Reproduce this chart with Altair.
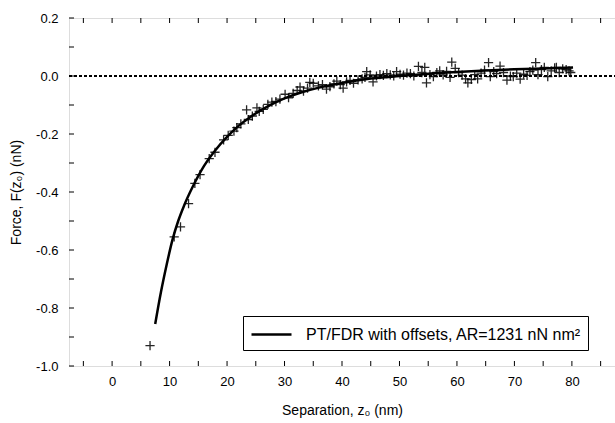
import altair as alt
import pandas as pd

# Measured data (crosses)
sep_x = [6.6, 10.8, 11.9, 13.3, 14.4, 15.3, 16.9, 17.9, 19.4, 20.2, 21.2, 21.7, 22.4,
         23.4, 23.7, 24.4, 25.2, 25.6, 26.3, 27.1, 27.8, 28.5, 29.2, 30.1, 30.7, 31.5,
         32.2, 32.7, 33.3, 34.0, 34.4, 35.0, 35.9, 36.6, 37.3, 37.9, 38.6, 39.1, 39.7,
         40.2, 40.8, 41.4, 42.0, 42.8, 43.5, 44.0, 44.3, 44.9, 45.4, 46.0, 46.6, 47.2,
         47.8, 48.4, 49.0, 49.5, 50.1, 50.7, 51.3, 51.9, 52.5, 53.3, 53.9, 54.4, 54.7,
         55.3, 55.9, 56.5, 57.0, 57.6, 58.2, 58.8, 59.1, 59.7, 60.3, 60.9, 61.5, 61.9,
         62.5, 63.1, 63.6, 64.2, 64.8, 65.5, 65.8, 66.4, 66.9, 67.5, 68.1, 68.7, 69.3,
         69.8, 70.4, 71.0, 71.6, 72.2, 72.7, 73.2, 73.7, 74.1, 74.7, 75.2, 75.8, 76.4,
         77.0, 77.3, 77.8, 78.4, 79.0, 79.5, 79.8]
force_y = [-0.93, -0.555, -0.52, -0.44, -0.37, -0.34, -0.285, -0.263, -0.22, -0.205, -0.19,
           -0.178, -0.165, -0.117, -0.15, -0.138, -0.11, -0.122, -0.115, -0.098, -0.09,
           -0.088, -0.08, -0.063, -0.075, -0.06, -0.05, -0.038, -0.052, -0.042, -0.022,
           -0.025, -0.034, -0.03, -0.045, -0.037, -0.027, -0.018, -0.03, -0.042, -0.02,
           -0.015, -0.025, -0.013, -0.01, -0.005, 0.015, 0.004, -0.02, 0.0, 0.005, 0.002,
           0.008, 0.004, 0.0, 0.015, 0.006, 0.003, 0.01, 0.008, 0.0, 0.033, 0.012, 0.03,
           -0.024, 0.005, -0.002, 0.012, 0.018, 0.004, 0.016, -0.005, 0.048, 0.026, 0.012,
           0.003, -0.01, -0.024, -0.012, 0.005, -0.01, 0.01, 0.02, 0.046, -0.002, 0.015,
           0.008, 0.034, 0.012, -0.014, 0.0, -0.002, 0.01, -0.011, 0.006, 0.002, 0.015,
           0.02, 0.046, 0.005, 0.022, 0.03, -0.002, 0.018, 0.028, 0.03, 0.012, 0.025,
           0.022, 0.018, 0.012]

# Fitted curve
fit_x = [7.5, 8.5, 9.5, 10.5, 11.5, 12.5, 14.0, 16.0, 18.0, 20.0, 22.0, 24.0, 26.0,
         28.0, 30.0, 33.0, 36.0, 40.0, 45.0, 50.0, 55.0, 60.0, 65.0, 70.0, 75.0, 80.2]
fit_y = [-0.855, -0.745, -0.65, -0.565, -0.5, -0.448, -0.383, -0.31, -0.255, -0.21,
         -0.172, -0.142, -0.117, -0.095, -0.077, -0.056, -0.040, -0.024, -0.009, 0.0,
         0.008, 0.014, 0.019, 0.023, 0.026, 0.029]

legend_label = "PT/FDR with offsets, AR=1231 nN nm²"

x_ticks = [-5, 0, 5, 10, 15, 20, 25, 30, 35, 40, 45, 50, 55, 60, 65, 70, 75, 80, 85]
y_ticks = [-1.0, -0.9, -0.8, -0.7, -0.6, -0.5, -0.4, -0.3, -0.2, -0.1, 0.0, 0.1, 0.2]
x_labels = [0, 10, 20, 30, 40, 50, 60, 70, 80]
y_labels = [-1.0, -0.8, -0.6, -0.4, -0.2, 0.0, 0.2]
zero_line = [-7.5, 87.5]

W, H = 546, 348
xs = alt.Scale(domain=[-7.5, 87.5], nice=False, zero=False)
ys = alt.Scale(domain=[-1.0, 0.2], nice=False, zero=False)

font = "Liberation Sans"

xaxis = alt.Axis(values=x_labels, ticks=False, grid=False, domain=False,
                 labelFont=font, labelFontSize=13, labelPadding=9, labelColor="black",
                 title="Separation, z₀ (nm)", titleFont=font, titleFontSize=14,
                 titleFontWeight="normal", titleColor="black", titlePadding=15)
yaxis = alt.Axis(values=y_labels, ticks=False, grid=False, domain=False,
                 labelFont=font, labelFontSize=13, labelPadding=11, labelColor="black",
                 labelExpr="datum.value < 0 ? '-' + format(-datum.value, '.1f') : format(datum.value, '.1f')",
                 title="Force, F(z₀) (nN)", titleFont=font, titleFontSize=14,
                 titleFontWeight="normal", titleColor="black", titlePadding=12)

pts_df = pd.DataFrame({"x": sep_x, "y": force_y})
fit_df = pd.DataFrame({"x": fit_x, "y": fit_y, "series": [legend_label] * len(fit_x)})
zero_df = pd.DataFrame({"x": zero_line, "y": [0.0, 0.0]})
xt_df = pd.DataFrame({"x": x_ticks})
yt_df = pd.DataFrame({"y": y_ticks})

zero = alt.Chart(zero_df).mark_line(color="black", strokeWidth=2, strokeDash=[3, 2]).encode(
    x=alt.X("x:Q", scale=xs, axis=xaxis), y=alt.Y("y:Q", scale=ys, axis=yaxis))

points = alt.Chart(pts_df).mark_point(
    shape="M-1,0L1,0M0,-1L0,1", size=85, filled=False, color="black", strokeWidth=1.3,
    opacity=0.85
).encode(x=alt.X("x:Q", scale=xs), y=alt.Y("y:Q", scale=ys))

fit = alt.Chart(fit_df).mark_line(strokeWidth=2.5, interpolate="monotone").encode(
    x=alt.X("x:Q", scale=xs), y=alt.Y("y:Q", scale=ys),
    color=alt.Color("series:N", scale=alt.Scale(range=["black"]),
                    legend=alt.Legend(title=None, orient="none", legendX=174, legendY=298,
                                      symbolType="M-2,0L2,0", symbolStrokeWidth=2.5,
                                      symbolSize=400, symbolOffset=10,
                                      labelFont=font, labelFontSize=16,
                                      labelColor="black", labelLimit=400, labelOffset=23,
                                      strokeColor="black", fillColor="white", padding=7)))

xt_top = alt.Chart(xt_df).mark_rule(color="black", strokeWidth=1).encode(
    x=alt.X("x:Q", scale=xs), y=alt.value(0), y2=alt.value(5))
xt_bot = alt.Chart(xt_df).mark_rule(color="black", strokeWidth=1).encode(
    x=alt.X("x:Q", scale=xs), y=alt.value(H), y2=alt.value(H - 5))
yt_left = alt.Chart(yt_df).mark_rule(color="black", strokeWidth=1).encode(
    y=alt.Y("y:Q", scale=ys), x=alt.value(0), x2=alt.value(5))

chart = alt.layer(zero, xt_top, xt_bot, yt_left, points, fit).properties(
    width=W, height=H,
    autosize=alt.AutoSizeParams(type="none"),
    padding={"left": 69, "top": 18, "right": 0, "bottom": 57},
).configure_view(stroke="black", strokeWidth=1.5).configure(background="white")

chart.save("out.html", embed_options={"renderer": "svg", "actions": False})
